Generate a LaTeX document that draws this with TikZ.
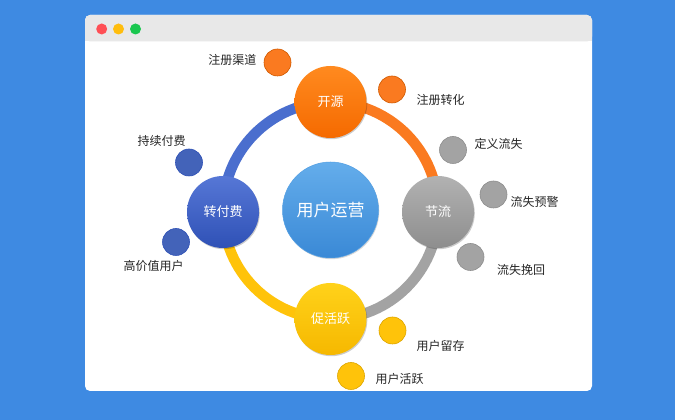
\documentclass[tikz,border=0pt]{standalone}
\usepackage{fontspec}
\setmainfont{Noto Sans CJK SC}
\usetikzlibrary{backgrounds}
\definecolor{bgblue}{HTML}{3E8AE2}
\definecolor{barg}{HTML}{E8E8E8}
\definecolor{dotr}{HTML}{FF4F55}
\definecolor{doty}{HTML}{FFBD0D}
\definecolor{dotg}{HTML}{1AC74F}
\definecolor{orT}{HTML}{FF8A1F}\definecolor{orB}{HTML}{F56A00}\definecolor{orR}{HTML}{FA7A20}
\definecolor{grT}{HTML}{B2B2B2}\definecolor{grB}{HTML}{8E8E8E}\definecolor{grR}{HTML}{A3A3A3}
\definecolor{blT}{HTML}{5677D6}\definecolor{blB}{HTML}{2F51B6}\definecolor{blR}{HTML}{4A6ECE}
\definecolor{yeT}{HTML}{FFD21A}\definecolor{yeB}{HTML}{F6B800}\definecolor{yeR}{HTML}{FFC30A}
\definecolor{ceT}{HTML}{64ADEB}\definecolor{ceB}{HTML}{3A89D6}
\definecolor{txt}{HTML}{262626}
\tikzset{
  x=1pt,y=1pt,
  big/.style={circle,minimum size=72pt,inner sep=0pt,text=white,font=\fontsize{13}{13}\selectfont},
  small/.style={circle,minimum size=27pt,inner sep=0pt,line width=0.6pt},
  lab/.style={text=txt,font=\fontsize{12}{12}\selectfont,inner sep=0pt},
  ring/.style={line width=10.5pt},
  shad/.style={black,opacity=0.2},
}
\begin{document}
\begin{tikzpicture}
\useasboundingbox (0,0) rectangle (675,420);
\begin{scope}[on background layer]
\fill[bgblue] (0,0) rectangle (675,420);
\fill[white,rounded corners=5pt] (85,29) rectangle (592,405);
\fill[barg,rounded corners=5pt] (85,378.5) rectangle (592,405);
\fill[barg] (85,378.5) rectangle (592,390);
\end{scope}
\fill[dotr] (101.7,391) circle (5.5);
\fill[doty] (118.5,391) circle (5.5);
\fill[dotg] (135.5,391) circle (5.5);

% shadows
\fill[shad] (331.3,316.8) circle (36);
\fill[shad] (438.8,206.8) circle (36);
\fill[shad] (331.3,99.8) circle (36);
\fill[shad] (223.8,206.8) circle (36);
\fill[shad,opacity=0.15] (331.3,208.8) circle (48);

% main nodes
\node[big,top color=orT,bottom color=orB] (ky) at (330.5,318) {开源};
\node[big,top color=grT,bottom color=grB] (jl) at (438,208) {节流};
\node[big,top color=yeT,bottom color=yeB] (ch) at (330.5,101) {促活跃};
\node[big,top color=blT,bottom color=blB] (zf) at (223,208) {转付费};
\node[circle,minimum size=96pt,inner sep=0pt,text=white,font=\fontsize{17}{17}\selectfont,
  top color=ceT,bottom color=ceB,draw=ceT!60!ceB,line width=0.5pt] (yy) at (330.5,210) {用户运营};

% ring
\begin{scope}[on background layer]
\draw[ring,orR] (ky.center) to[bend left=45] (jl.center);
\draw[ring,grR] (jl.center) to[bend left=45] (ch.center);
\draw[ring,yeR] (ch.center) to[bend left=45] (zf.center);
\draw[ring,blR] (zf.center) to[bend left=45] (ky.center);
\end{scope}

% small circles
\node[small,fill=orR,draw=orB!85!black] (qd) at (277.5,357.5) {};
\node[small,fill=orR,draw=orB!85!black] (zh) at (392,330.5) {};
\node[small,fill=grR,draw=grB] (dy) at (453,270) {};
\node[small,fill=grR,draw=grB] (yj) at (493.5,225.5) {};
\node[small,fill=grR,draw=grB] (wh) at (470.5,163) {};
\node[small,fill=yeR,draw=yeB!90!black] (lc) at (392.5,89.5) {};
\node[small,fill=yeR,draw=yeB!90!black] (hy) at (351,44) {};
\node[small,fill=blR!90!black,draw=blB] (cx) at (189,257.5) {};
\node[small,fill=blR!90!black,draw=blB] (gj) at (176,178) {};

% labels
\node[lab,anchor=east] (tqd) at (256.5,360) {注册渠道};
\node[lab,anchor=west] (tzh) at (416.5,320) {注册转化};
\node[lab,anchor=west] (tdy) at (474.5,276) {定义流失};
\node[lab,anchor=west] (tyj) at (510.5,218) {流失预警};
\node[lab,anchor=west] (twh) at (497,150) {流失挽回};
\node[lab,anchor=west] (tlc) at (416.5,74) {用户留存};
\node[lab,anchor=west] (thy) at (375.5,41) {用户活跃};
\node[lab] (tcx) at (161.5,279) {持续付费};
\node[lab] (tgj) at (153.5,154) {高价值用户};
\end{tikzpicture}
\end{document}
